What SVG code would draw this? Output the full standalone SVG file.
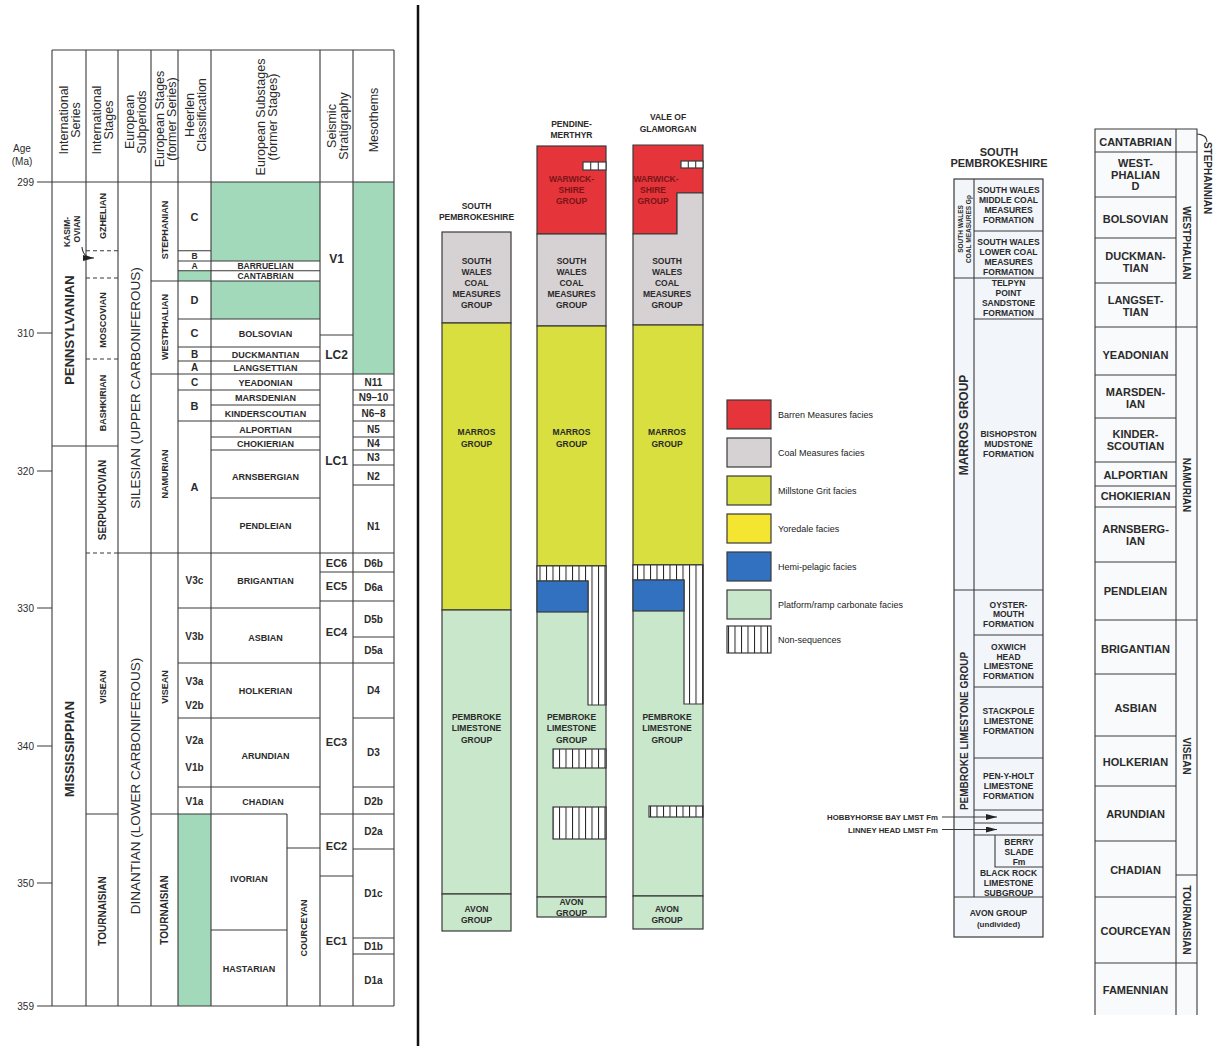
<svg xmlns="http://www.w3.org/2000/svg" width="1219" height="1046" viewBox="0 0 1219 1046">
<defs>
<style>
text{font-family:"Liberation Sans",Arial,Helvetica,sans-serif;fill:#2b2b2b}
.b{font-weight:bold}
.m{text-anchor:middle}
.e{text-anchor:end}
.ln{fill:none;stroke:#3a3a3a;stroke-width:1.1}
.dash{fill:none;stroke:#3a3a3a;stroke-width:1.1;stroke-dasharray:4 3}
.bx{stroke:#3a3a3a;stroke-width:1.2}
.gr{fill:#a3d9bb}
.red{fill:#e5343a}
.coal{fill:#d6d2d4}
.mill{fill:#d8df3e}
.yore{fill:#f4e530}
.hemi{fill:#3171bf}
.plat{fill:#c9e7cb}
.ns{fill:url(#hatch)}
.wh{fill:#fff}
.wt{fill:#7a1518}
.pale{fill:#f2f6fa}
.h{font-size:12.5px}
.s65{font-size:6.5px}
.s7{font-size:7.8px}
.s8{font-size:8px}
.s85{font-size:8.5px}
.s9{font-size:9px}
.s10{font-size:10px}
.s11{font-size:11px}
.s12{font-size:12px}
.s13{font-size:13px}
.big{font-size:13.5px}
.lg{font-size:9px;fill:#222}
</style>
<pattern id="hatch" patternUnits="userSpaceOnUse" width="6.5" height="10">
<rect width="6.5" height="10" fill="#fff"/>
<path d="M0.5,0V10" stroke="#222" stroke-width="1"/>
</pattern>
<marker id="ah" markerWidth="12" markerHeight="8" refX="11" refY="3" orient="auto" markerUnits="userSpaceOnUse">
<path d="M0,0L11,3L0,6z" fill="#222"/>
</marker>
</defs>
<rect width="1219" height="1046" fill="#fff"/>

<!-- ===== LEFT CHART ===== -->
<g id="timescale">
<rect class="gr" x="211" y="182" width="109" height="79"/>
<rect class="gr" x="211" y="281" width="109" height="38"/>
<rect class="gr" x="178" y="270.7" width="33" height="10.3"/>
<rect class="gr" x="353" y="182" width="41" height="192"/>
<rect class="gr" x="178" y="814" width="33" height="192"/>
<path class="ln" d="M52,50V1006M86,50V1006M118,50V1006M151,50V1006M178,50V1006M211,50V1006M320,50V1006M353,50V1006M394,50V1006M287,814V1006
M52,50H394M37,182H394M37,1006H394M37,333H52M37,471H52M37,608H52M37,746H52M37,883H52
M52,446H118M86,814H118M118,553H394M151,281H320M151,374H394M151,814H287M320,814H394
M178,250.7H211M178,261H320M178,270.7H320M178,319H320M178,347H320M178,361H320
M178,390H320M353,390H394M211,405H320M353,405H394M178,421H320M353,421H394
M211,437H320M353,437H394M211,450H320M353,450H394M353,465H394M353,485H394M211,498H320
M320,335H353M320,572H394M320,601H394M178,608H320M353,637H394M178,663H394
M178,718H320M353,718H394M178,787H320M353,787H394M287,848H320M353,849H394
M320,876H353M211,930H287M353,938H394M353,954H394"/>
<path class="dash" d="M86,250.7H118M86,278H118M86,359H118M86,553H118"/>
<path class="ln" d="M82,247Q83,258 94,258" marker-end="url(#ah)"/>

<!-- header -->
<text class="h" transform="translate(69,120) rotate(-90)" text-anchor="middle"><tspan x="0" y="-1">International</tspan><tspan x="0" y="11">Series</tspan></text>
<text class="h" transform="translate(102,120) rotate(-90)" text-anchor="middle"><tspan x="0" y="-1">International</tspan><tspan x="0" y="11">Stages</tspan></text>
<text class="h" transform="translate(134.5,122) rotate(-90)" text-anchor="middle"><tspan x="0" y="-1">European</tspan><tspan x="0" y="11">Subperiods</tspan></text>
<text class="h" transform="translate(164.5,119) rotate(-90)" text-anchor="middle"><tspan x="0" y="-1">European Stages</tspan><tspan x="0" y="11">(former Series)</tspan></text>
<text class="h" transform="translate(194.5,115) rotate(-90)" text-anchor="middle"><tspan x="0" y="-1">Heerlen</tspan><tspan x="0" y="11">Classification</tspan></text>
<text class="h" transform="translate(265.5,117) rotate(-90)" text-anchor="middle"><tspan x="0" y="-1">European Substages</tspan><tspan x="0" y="11">(former Stages)</tspan></text>
<text class="h" transform="translate(336.5,126) rotate(-90)" text-anchor="middle"><tspan x="0" y="-1">Seismic</tspan><tspan x="0" y="11">Stratigraphy</tspan></text>
<text class="h" transform="translate(373.5,120) rotate(-90)" text-anchor="middle"><tspan x="0" y="4.5">Mesothems</tspan></text>

<text class="s10 m" x="22" y="152">Age</text>
<text class="s10 m" x="22" y="165">(Ma)</text>
<text class="s10 e" x="34" y="186">299</text>
<text class="s10 e" x="34" y="337">310</text>
<text class="s10 e" x="34" y="475">320</text>
<text class="s10 e" x="34" y="612">330</text>
<text class="s10 e" x="34" y="750">340</text>
<text class="s10 e" x="34" y="887">350</text>
<text class="s10 e" x="34" y="1010">359</text>

<!-- vertical labels -->
<text class="b s13" transform="translate(69,330) rotate(-90)" text-anchor="middle" y="4.5">PENNSYLVANIAN</text>
<text class="b s13" transform="translate(69,749) rotate(-90)" text-anchor="middle" y="4.5">MISSISSIPPIAN</text>
<text class="b s85" transform="translate(70,232) rotate(-90)" text-anchor="middle"><tspan x="0" y="0">KASIM-</tspan><tspan x="3" y="10">OVIAN</tspan></text>
<text class="b s9" transform="translate(102,216) rotate(-90)" text-anchor="middle" y="3.5">GZHELIAN</text>
<text class="b s9" transform="translate(102,320) rotate(-90)" text-anchor="middle" y="3.5">MOSCOVIAN</text>
<text class="b s9" transform="translate(102,403) rotate(-90)" text-anchor="middle" y="3.5">BASHKIRIAN</text>
<text class="b s10" transform="translate(102,500) rotate(-90)" text-anchor="middle" y="3.5">SERPUKHOVIAN</text>
<text class="b s9" transform="translate(102,687) rotate(-90)" text-anchor="middle" y="3.5">VISEAN</text>
<text class="b s10" transform="translate(102,911) rotate(-90)" text-anchor="middle" y="3.5">TOURNAISIAN</text>
<text class="big" transform="translate(134.5,388) rotate(-90)" text-anchor="middle" y="5">SILESIAN (UPPER CARBONIFEROUS)</text>
<text class="big" transform="translate(134.5,786) rotate(-90)" text-anchor="middle" y="5">DINANTIAN (LOWER CARBONIFEROUS)</text>
<text class="b s9" transform="translate(164.5,230) rotate(-90)" text-anchor="middle" y="3.5">STEPHANIAN</text>
<text class="b s9" transform="translate(164.5,327) rotate(-90)" text-anchor="middle" y="3.5">WESTPHALIAN</text>
<text class="b s9" transform="translate(164.5,474) rotate(-90)" text-anchor="middle" y="3.5">NAMURIAN</text>
<text class="b s9" transform="translate(164.5,687) rotate(-90)" text-anchor="middle" y="3.5">VISEAN</text>
<text class="b s10" transform="translate(164.5,910) rotate(-90)" text-anchor="middle" y="3.5">TOURNAISIAN</text>
<text class="b s9" transform="translate(303.5,928) rotate(-90)" text-anchor="middle" y="3.5">COURCEYAN</text>

<!-- heerlen -->
<g class="b m">
<text class="s11" x="194.5" y="221">C</text>
<text class="s85" x="194.5" y="259">B</text>
<text class="s85" x="194.5" y="269">A</text>
<text class="s11" x="194.5" y="304">D</text>
<text class="s11" x="194.5" y="337">C</text>
<text class="s10" x="194.5" y="357.5">B</text>
<text class="s10" x="194.5" y="371">A</text>
<text class="s10" x="194.5" y="385.5">C</text>
<text class="s11" x="194.5" y="409.5">B</text>
<text class="s11" x="194.5" y="491">A</text>
<text class="s10" x="194.5" y="583.5">V3c</text>
<text class="s10" x="194.5" y="639.5">V3b</text>
<text class="s10" x="194.5" y="684.5">V3a</text>
<text class="s10" x="194.5" y="708.5">V2b</text>
<text class="s10" x="194.5" y="743.5">V2a</text>
<text class="s10" x="194.5" y="770.5">V1b</text>
<text class="s10" x="194.5" y="804.5">V1a</text>
</g>
<!-- substages -->
<g class="b m s9">
<text class="s85" x="265.5" y="269">BARRUELIAN</text>
<text class="s85" x="265.5" y="279">CANTABRIAN</text>
<text x="265.5" y="336.5">BOLSOVIAN</text>
<text x="265.5" y="357.5">DUCKMANTIAN</text>
<text x="265.5" y="371">LANGSETTIAN</text>
<text x="265.5" y="385.5">YEADONIAN</text>
<text x="265.5" y="401">MARSDENIAN</text>
<text x="265.5" y="416.5">KINDERSCOUTIAN</text>
<text x="265.5" y="432.5">ALPORTIAN</text>
<text x="265.5" y="447">CHOKIERIAN</text>
<text x="265.5" y="479.5">ARNSBERGIAN</text>
<text x="265.5" y="528.5">PENDLEIAN</text>
<text x="265.5" y="583.5">BRIGANTIAN</text>
<text x="265.5" y="640.5">ASBIAN</text>
<text x="265.5" y="693.5">HOLKERIAN</text>
<text x="265.5" y="758.5">ARUNDIAN</text>
<text x="263" y="804.5">CHADIAN</text>
<text x="249" y="881.5">IVORIAN</text>
<text x="249" y="971.5">HASTARIAN</text>
</g>
<!-- seismic -->
<g class="b m">
<text class="s12" x="336.5" y="262.5">V1</text>
<text class="s12" x="336.5" y="358.5">LC2</text>
<text class="s12" x="336.5" y="464.5">LC1</text>
<text class="s11" x="336.5" y="567">EC6</text>
<text class="s11" x="336.5" y="590">EC5</text>
<text class="s11" x="336.5" y="636">EC4</text>
<text class="s11" x="336.5" y="746">EC3</text>
<text class="s11" x="336.5" y="850">EC2</text>
<text class="s11" x="336.5" y="945">EC1</text>
</g>
<!-- mesothems -->
<g class="b m s10">
<text x="373.5" y="385.5">N11</text>
<text x="373.5" y="401">N9–10</text>
<text x="373.5" y="416.5">N6–8</text>
<text x="373.5" y="432.5">N5</text>
<text x="373.5" y="447">N4</text>
<text x="373.5" y="461">N3</text>
<text x="373.5" y="479.5">N2</text>
<text x="373.5" y="529.5">N1</text>
<text x="373.5" y="566.5">D6b</text>
<text x="373.5" y="590.5">D6a</text>
<text x="373.5" y="622.5">D5b</text>
<text x="373.5" y="653.5">D5a</text>
<text x="373.5" y="693.5">D4</text>
<text x="373.5" y="755.5">D3</text>
<text x="373.5" y="804.5">D2b</text>
<text x="373.5" y="834.5">D2a</text>
<text x="373.5" y="896.5">D1c</text>
<text x="373.5" y="949.5">D1b</text>
<text x="373.5" y="983.5">D1a</text>
</g>
</g>

<path d="M418,5V1046" stroke="#111" stroke-width="2.5"/>

<!-- ===== FACIES COLUMNS ===== -->
<g id="col-south-pembrokeshire">
<rect class="coal bx" x="442" y="232" width="69" height="91"/>
<rect class="mill bx" x="442" y="323" width="69" height="287"/>
<rect class="plat bx" x="442" y="610" width="69" height="284"/>
<rect class="plat bx" x="442" y="894" width="69" height="37"/>
<g class="b m s85">
<text x="476.5" y="209">SOUTH</text>
<text x="476.5" y="220">PEMBROKESHIRE</text>
<text x="476.5" y="264">SOUTH</text>
<text x="476.5" y="275">WALES</text>
<text x="476.5" y="286">COAL</text>
<text x="476.5" y="297">MEASURES</text>
<text x="476.5" y="308">GROUP</text>
<text x="476.5" y="435">MARROS</text>
<text x="476.5" y="447">GROUP</text>
<text x="476.5" y="720">PEMBROKE</text>
<text x="476.5" y="731">LIMESTONE</text>
<text x="476.5" y="743">GROUP</text>
<text x="476.5" y="912">AVON</text>
<text x="476.5" y="923">GROUP</text>
</g>
</g>

<g id="col-pendine-merthyr">
<rect class="red bx" x="537" y="146" width="69" height="88"/>
<rect class="coal bx" x="537" y="234" width="69" height="92"/>
<rect class="mill bx" x="537" y="326" width="69" height="240"/>
<rect class="plat bx" x="537" y="566" width="69" height="331"/>
<path class="ns bx" d="M537,566H606V705H588V581H537Z"/>
<rect class="hemi bx" x="537" y="581" width="51" height="31"/>
<rect class="ns bx" x="553" y="749" width="53" height="19"/>
<rect class="ns bx" x="553" y="807" width="53" height="32"/>
<rect class="wh bx" x="583" y="162" width="23" height="8"/>
<path class="ln" d="M590.7,162V170M598.3,162V170"/>
<rect class="plat bx" x="537" y="897" width="69" height="20"/>
<g class="b m s85">
<text x="571.5" y="127">PENDINE-</text>
<text x="571.5" y="138">MERTHYR</text>
<text class="wt" x="571.5" y="182">WARWICK-</text>
<text class="wt" x="571.5" y="193">SHIRE</text>
<text class="wt" x="571.5" y="204">GROUP</text>
<text x="571.5" y="264">SOUTH</text>
<text x="571.5" y="275">WALES</text>
<text x="571.5" y="286">COAL</text>
<text x="571.5" y="297">MEASURES</text>
<text x="571.5" y="308">GROUP</text>
<text x="571.5" y="435">MARROS</text>
<text x="571.5" y="447">GROUP</text>
<text x="571.5" y="720">PEMBROKE</text>
<text x="571.5" y="731">LIMESTONE</text>
<text x="571.5" y="743">GROUP</text>
<text x="571.5" y="905">AVON</text>
<text x="571.5" y="916">GROUP</text>
</g>
</g>

<g id="col-vale-of-glamorgan">
<path class="red bx" d="M633,145H703V193H677V234H633Z"/>
<path class="coal bx" d="M677,193H703V325H633V234H677Z"/>
<rect class="mill bx" x="633" y="325" width="70" height="240"/>
<rect class="plat bx" x="633" y="565" width="70" height="331"/>
<path class="ns bx" d="M633,565H703V704H684V580H633Z"/>
<rect class="hemi bx" x="633" y="580" width="51" height="31"/>
<rect class="ns bx" x="649" y="806" width="54" height="11"/>
<rect class="wh bx" x="681" y="161" width="22" height="7"/>
<path class="ln" d="M688.3,161V168M695.7,161V168"/>
<rect class="plat bx" x="633" y="896" width="70" height="33"/>
<g class="b m s85">
<text x="668" y="120">VALE OF</text>
<text x="668" y="132">GLAMORGAN</text>
<text class="wt" x="656" y="182">WARWICK-</text>
<text class="wt" x="653" y="193">SHIRE</text>
<text class="wt" x="653" y="204">GROUP</text>
<text x="667" y="264">SOUTH</text>
<text x="667" y="275">WALES</text>
<text x="667" y="286">COAL</text>
<text x="667" y="297">MEASURES</text>
<text x="667" y="308">GROUP</text>
<text x="667" y="435">MARROS</text>
<text x="667" y="447">GROUP</text>
<text x="667" y="720">PEMBROKE</text>
<text x="667" y="731">LIMESTONE</text>
<text x="667" y="743">GROUP</text>
<text x="667" y="912">AVON</text>
<text x="667" y="923">GROUP</text>
</g>
</g>

<!-- ===== LEGEND ===== -->
<g id="legend">
<rect class="red bx" x="727" y="400" width="44" height="29"/>
<rect class="coal bx" x="727" y="438" width="44" height="29"/>
<rect class="mill bx" x="727" y="476" width="44" height="29"/>
<rect class="yore bx" x="727" y="514" width="44" height="29"/>
<rect class="hemi bx" x="727" y="552" width="44" height="29"/>
<rect class="plat bx" x="727" y="590" width="44" height="29"/>
<rect class="ns bx" x="727" y="626" width="44" height="27"/>
<text class="lg" x="778" y="417.5">Barren Measures facies</text>
<text class="lg" x="778" y="455.5">Coal Measures facies</text>
<text class="lg" x="778" y="493.5">Millstone Grit facies</text>
<text class="lg" x="778" y="531.5">Yoredale facies</text>
<text class="lg" x="778" y="569.5">Hemi-pelagic facies</text>
<text class="lg" x="778" y="607.5">Platform/ramp carbonate facies</text>
<text class="lg" x="778" y="643">Non-sequences</text>
</g>

<!-- ===== SOUTH PEMBROKESHIRE LITHOSTRATIGRAPHY ===== -->
<g id="south-pembrokeshire-formations">
<rect class="pale bx" x="954" y="179" width="89" height="758"/>
<path class="ln" d="M974,179V897M954,278H1043M954,590H1043M954,897H1043
M974,231H1043M974,319H1043M974,635H1043M974,687H1043M974,758H1043M974,810H1043M974,823H1043M974,835H1043
M995,835V867H1043"/>
<text class="b s11 m" x="999" y="156">SOUTH</text>
<text class="b s11 m" x="999" y="167">PEMBROKESHIRE</text>
<text class="b s65" transform="translate(964,229) rotate(-90)" text-anchor="middle"><tspan x="0" y="-1.5">SOUTH WALES</tspan><tspan x="0" y="6.5">COAL MEASURES Gp</tspan></text>
<text class="b s12" transform="translate(964,425) rotate(-90)" text-anchor="middle" y="4.3">MARROS GROUP</text>
<text class="b s10" transform="translate(964,731) rotate(-90)" text-anchor="middle" y="3.8">PEMBROKE LIMESTONE GROUP</text>
<g class="b m s85">
<text x="1008.5" y="193">SOUTH WALES</text>
<text x="1008.5" y="203">MIDDLE COAL</text>
<text x="1008.5" y="213">MEASURES</text>
<text x="1008.5" y="223">FORMATION</text>
<text x="1008.5" y="245">SOUTH WALES</text>
<text x="1008.5" y="255">LOWER COAL</text>
<text x="1008.5" y="265">MEASURES</text>
<text x="1008.5" y="275">FORMATION</text>
<text x="1008.5" y="286">TELPYN</text>
<text x="1008.5" y="296">POINT</text>
<text x="1008.5" y="306">SANDSTONE</text>
<text x="1008.5" y="316">FORMATION</text>
<text x="1008.5" y="437">BISHOPSTON</text>
<text x="1008.5" y="447">MUDSTONE</text>
<text x="1008.5" y="457">FORMATION</text>
<text x="1008.5" y="608">OYSTER-</text>
<text x="1008.5" y="617">MOUTH</text>
<text x="1008.5" y="627">FORMATION</text>
<text x="1008.5" y="650">OXWICH</text>
<text x="1008.5" y="660">HEAD</text>
<text x="1008.5" y="669">LIMESTONE</text>
<text x="1008.5" y="679">FORMATION</text>
<text x="1008.5" y="714">STACKPOLE</text>
<text x="1008.5" y="724">LIMESTONE</text>
<text x="1008.5" y="734">FORMATION</text>
<text x="1008.5" y="779">PEN-Y-HOLT</text>
<text x="1008.5" y="789">LIMESTONE</text>
<text x="1008.5" y="799">FORMATION</text>
<text x="1019" y="845">BERRY</text>
<text x="1019" y="855">SLADE</text>
<text x="1019" y="865">Fm</text>
<text x="1008.5" y="876">BLACK ROCK</text>
<text x="1008.5" y="886">LIMESTONE</text>
<text x="1008.5" y="896">SUBGROUP</text>
<text x="998.5" y="916">AVON GROUP</text>
<text class="s8" x="998.5" y="927">(undivided)</text>
</g>
<text class="b s7 e" x="938" y="820">HOBBYHORSE BAY LMST Fm</text>
<text class="b s7 e" x="938" y="832.5">LINNEY HEAD LMST Fm</text>
</g>

<g id="connectors">
<path class="ln" d="M942,817H997" marker-end="url(#ah)"/>
<path class="ln" d="M942,829.5H997" marker-end="url(#ah)"/>
<path class="ln" d="M1207,142C1207,134 1199,133 1181,134" marker-end="url(#ah)"/>
</g>

<!-- ===== STAGE COLUMN (RIGHT) ===== -->
<g id="stage-column">
<rect x="1095" y="129" width="102" height="886" fill="#f8fafc"/>
<path class="ln" d="M1095,1015V129H1197V1015M1176,129V1015
M1095,152H1197M1095,197H1176M1095,238H1176M1095,283H1176M1095,327H1197
M1095,375H1176M1095,418H1176M1095,462H1176M1095,486H1176M1095,507H1176M1095,562H1176
M1095,620H1197M1095,674H1176M1095,736H1176M1095,786H1176M1095,841H1176
M1176,875H1197M1095,897H1176M1095,963H1197"/>
<g class="b m s11">
<text x="1135.5" y="146">CANTABRIAN</text>
<text x="1135.5" y="167">WEST-</text>
<text x="1135.5" y="178.5">PHALIAN</text>
<text x="1135.5" y="190">D</text>
<text x="1135.5" y="223">BOLSOVIAN</text>
<text x="1135.5" y="260">DUCKMAN-</text>
<text x="1135.5" y="272">TIAN</text>
<text x="1135.5" y="304">LANGSET-</text>
<text x="1135.5" y="316">TIAN</text>
<text x="1135.5" y="359">YEADONIAN</text>
<text x="1135.5" y="396">MARSDEN-</text>
<text x="1135.5" y="408">IAN</text>
<text x="1135.5" y="438">KINDER-</text>
<text x="1135.5" y="450">SCOUTIAN</text>
<text x="1135.5" y="479">ALPORTIAN</text>
<text x="1135.5" y="500">CHOKIERIAN</text>
<text x="1135.5" y="533">ARNSBERG-</text>
<text x="1135.5" y="545">IAN</text>
<text x="1135.5" y="595">PENDLEIAN</text>
<text x="1135.5" y="653">BRIGANTIAN</text>
<text x="1135.5" y="712">ASBIAN</text>
<text x="1135.5" y="766">HOLKERIAN</text>
<text x="1135.5" y="818">ARUNDIAN</text>
<text x="1135.5" y="874">CHADIAN</text>
<text x="1135.5" y="935">COURCEYAN</text>
<text x="1135.5" y="994">FAMENNIAN</text>
</g>
<text class="b s10" transform="translate(1186.5,243) rotate(90)" text-anchor="middle" y="3.5">WESTPHALIAN</text>
<text class="b s10" transform="translate(1186.5,485) rotate(90)" text-anchor="middle" y="3.5">NAMURIAN</text>
<text class="b s10" transform="translate(1186.5,756) rotate(90)" text-anchor="middle" y="3.5">VISEAN</text>
<text class="b s10" transform="translate(1186.5,920) rotate(90)" text-anchor="middle" y="3.5">TOURNAISIAN</text>
<text class="b s10" transform="translate(1207,178) rotate(90)" text-anchor="middle" y="3.5">STEPHANNIAN</text>
</g>
</svg>
